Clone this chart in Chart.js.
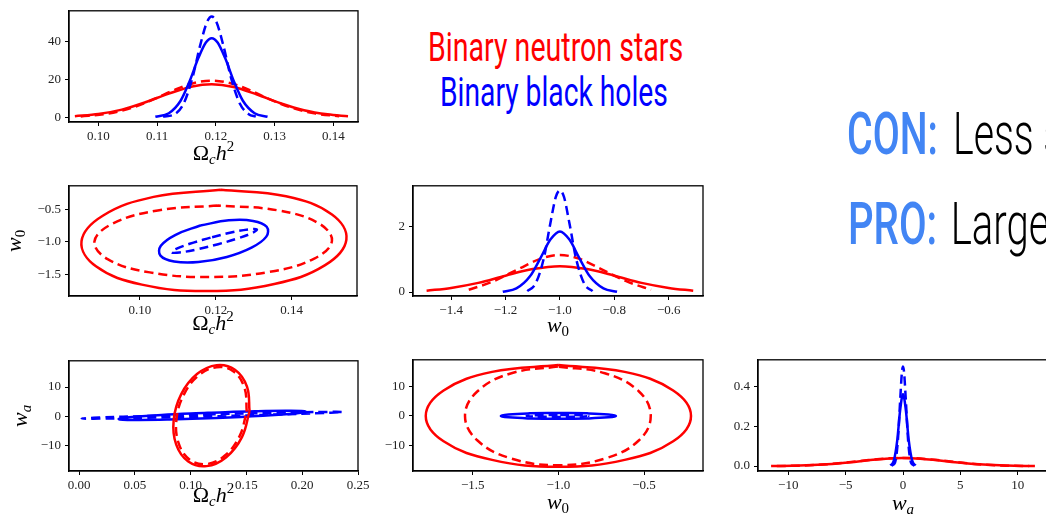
<!DOCTYPE html>
<html>
<head>
<meta charset="utf-8">
<script src="https://cdn.jsdelivr.net/npm/chart.js@4.4.1/dist/chart.umd.min.js"></script>
<style>
html, body { margin: 0; padding: 0; background: #fff; }
body { width: 1046px; height: 514px; overflow: hidden; position: relative; font-family: Roboto, sans-serif; }
canvas { position: absolute; }
.txt { position: absolute; white-space: nowrap; line-height: 1; transform-origin: 0 0; }
.big { font-size: 40px; font-weight: 400; }
.slide { font-size: 60px; }
.key { color: #4285f4; font-weight: 500; }
.rest { color: #000; font-weight: 300; display: inline-block; }
</style>
</head>
<body>
<div id="bns" class="txt big" style="color:#ff0000">Binary neutron stars</div>
<div id="bbh" class="txt big" style="color:#0000ff">Binary black holes</div>
<div id="con" class="txt slide"><span class="key">CON:</span><span class="rest">Less s</span></div>
<div id="pro" class="txt slide"><span class="key">PRO:</span><span class="rest">Large</span></div>

<canvas id="pOmega"></canvas>
<canvas id="pOmegaW0"></canvas>
<canvas id="pW0"></canvas>
<canvas id="pOmegaWa"></canvas>
<canvas id="pW0Wa"></canvas>
<canvas id="pWa"></canvas>

<script>
/**
 * Data: [x, y] points along each curve
 */

// Omega_c h^2 marginal
var omegaBnsSolid = [[0.096, 0.6], [0.100, 1.75], [0.104, 4.1], [0.108, 8.0], [0.112, 12.6], [0.116, 16.4], [0.1193, 17.5], [0.123, 16.1], [0.127, 12.1], [0.131, 7.5], [0.135, 3.8], [0.139, 1.6], [0.1425, 0.6]];
var omegaBnsDashed = [[0.097, 0.5], [0.101, 1.7], [0.105, 4.4], [0.109, 9.0], [0.113, 14.6], [0.116, 18.0], [0.1193, 19.5], [0.1225, 18.1], [0.1255, 14.8], [0.129, 9.8], [0.133, 5.0], [0.137, 2.0], [0.141, 0.6]];
var omegaBbhSolid = [[0.1097, 0.3], [0.112, 2.2], [0.114, 8.8], [0.1155, 18.9], [0.117, 31.3], [0.1183, 39.7], [0.1193, 42], [0.1203, 39.7], [0.1216, 31.3], [0.1231, 18.9], [0.1246, 8.8], [0.1266, 2.2], [0.1288, 0.3]];
var omegaBbhDashed = [[0.111, 0.4], [0.113, 1.7], [0.1145, 7.2], [0.116, 20.8], [0.1173, 37.8], [0.1185, 50.6], [0.1193, 53.5], [0.1201, 50.6], [0.1213, 37.8], [0.1226, 20.8], [0.1241, 7.2], [0.1256, 1.7], [0.1268, 0.4]];

// Omega_c h^2 vs w0 contours
var omegaW0BnsSolid = [[0.1213, -0.206], [0.1036, -0.314], [0.0902, -0.601], [0.0846, -0.988], [0.0884, -1.373], [0.1005, -1.652], [0.1177, -1.75], [0.1354, -1.642], [0.1488, -1.355], [0.1544, -0.968], [0.1506, -0.583], [0.1385, -0.304], [0.1213, -0.206]];
var omegaW0BnsDashed = [[0.1205, -0.445], [0.1047, -0.521], [0.0928, -0.722], [0.088, -0.995], [0.0916, -1.267], [0.1026, -1.465], [0.1181, -1.535], [0.1339, -1.46], [0.1458, -1.258], [0.1506, -0.985], [0.147, -0.713], [0.136, -0.516], [0.1205, -0.445]];
var omegaW0BbhSolid = [[0.1159, -0.75], [0.1094, -0.892], [0.1055, -1.06], [0.1054, -1.21], [0.109, -1.30], [0.1154, -1.308], [0.1229, -1.23], [0.1294, -1.088], [0.1333, -0.92], [0.1334, -0.77], [0.1298, -0.68], [0.1234, -0.672], [0.1159, -0.75]];
var omegaW0BbhDashed = [[0.1186, -0.935], [0.1131, -1.029], [0.1094, -1.112], [0.1084, -1.16], [0.1104, -1.162], [0.1149, -1.116], [0.1206, -1.035], [0.1261, -0.941], [0.1298, -0.858], [0.1308, -0.81], [0.1288, -0.808], [0.1243, -0.854], [0.1186, -0.935]];

// w0 marginal
var w0BnsSolid = [[-1.49, 0.04], [-1.4, 0.127], [-1.3, 0.28], [-1.2, 0.50], [-1.1, 0.70], [-1.0, 0.79], [-0.9, 0.70], [-0.8, 0.50], [-0.7, 0.28], [-0.6, 0.127], [-0.51, 0.04]];
var w0BnsDashed = [[-1.335, 0.07], [-1.25, 0.31], [-1.15, 0.71], [-1.07, 1.02], [-1.0, 1.13], [-0.93, 1.02], [-0.85, 0.71], [-0.75, 0.31], [-0.665, 0.07]];
var w0BbhSolid = [[-1.21, 0.01], [-1.16, 0.11], [-1.11, 0.48], [-1.07, 1.06], [-1.035, 1.6], [-1.0, 1.85], [-0.965, 1.6], [-0.93, 1.06], [-0.89, 0.48], [-0.84, 0.11], [-0.79, 0.01]];
var w0BbhDashed = [[-1.12, 0.03], [-1.09, 0.25], [-1.06, 1.0], [-1.035, 2.1], [-1.015, 2.9], [-1.0, 3.1], [-0.985, 2.9], [-0.965, 2.1], [-0.94, 1.0], [-0.91, 0.25], [-0.88, 0.03]];

// Omega_c h^2 vs wa contours
var omegaWaBnsSolid = [[0.1528, 1.7], [0.1505, 10.15], [0.1397, 15.93], [0.1233, 17.5], [0.1057, 14.43], [0.0916, 7.55], [0.0848, -1.3], [0.0871, -9.75], [0.0979, -15.53], [0.1143, -17.1], [0.1319, -14.03], [0.146, -7.15], [0.1528, 1.7]];
var omegaWaBnsDashed = [[0.1503, 1.6], [0.1483, 9.71], [0.1385, 15.28], [0.1233, 16.8], [0.107, 13.88], [0.0938, 7.29], [0.0873, -1.2], [0.0893, -9.31], [0.0992, -14.88], [0.1143, -16.4], [0.1307, -13.48], [0.1438, -6.89], [0.1503, 1.6]];
var omegaWaBbhSolid = [[0.1153, 1.18], [0.074, 0.424], [0.0448, -0.37], [0.0356, -0.99], [0.0488, -1.27], [0.0809, -1.134], [0.1233, -0.62], [0.1646, 0.136], [0.1938, 0.93], [0.203, 1.55], [0.1898, 1.83], [0.1577, 1.69], [0.1153, 1.18]];
var omegaWaBbhDashed = [[0.1192, 0.675], [0.0608, 0.066], [0.0181, -0.474], [0.0024, -0.8], [0.0181, -0.824], [0.0608, -0.54], [0.1192, -0.025], [0.1776, 0.5845], [0.2203, 1.124], [0.236, 1.45], [0.2203, 1.474], [0.1776, 1.19], [0.1192, 0.675]];

// w0 vs wa contours
var w0WaBnsSolid = [[-1.0, 17.2], [-1.387, 14.9], [-1.67, 8.6], [-1.774, 0], [-1.67, -8.6], [-1.387, -14.9], [-1.0, -17.2], [-0.613, -14.9], [-0.33, -8.6], [-0.226, 0], [-0.33, 8.6], [-0.613, 14.9], [-1.0, 17.2]];
var w0WaBnsDashed = [[-1.003, 16.7], [-1.274, 14.46], [-1.472, 8.35], [-1.545, 0], [-1.472, -8.35], [-1.274, -14.46], [-1.003, -16.7], [-0.729, -14.46], [-0.531, -8.35], [-0.461, 0], [-0.531, 8.35], [-0.729, 14.46], [-1.003, 16.7]];
var w0WaBbhSolid = [[-1.0, 1.0], [-1.168, 0.866], [-1.291, 0.5], [-1.336, 0], [-1.291, -0.5], [-1.168, -0.866], [-1.0, -1.0], [-0.832, -0.866], [-0.709, -0.5], [-0.664, 0], [-0.709, 0.5], [-0.832, 0.866], [-1.0, 1.0]];
var w0WaBbhDashed = [[-1.005, 0.35], [-1.095, 0.3], [-1.161, 0.175], [-1.185, 0], [-1.161, -0.175], [-1.095, -0.3], [-1.005, -0.35], [-0.915, -0.3], [-0.844, -0.175], [-0.825, 0], [-0.844, 0.175], [-0.915, 0.3], [-1.005, 0.35]];

// wa marginal
var waBnsSolid = [[-11.5, 0.0004], [-9, 0.0024], [-7, 0.0073], [-5, 0.017], [-3, 0.029], [-1.5, 0.037], [0, 0.04], [1.5, 0.037], [3, 0.029], [5, 0.017], [7, 0.0073], [9, 0.0024], [11.5, 0.0004]];
var waBnsDashed = [[-11, 0.0005], [-9, 0.0022], [-7, 0.0075], [-5, 0.018], [-3, 0.03], [-1.5, 0.038], [0, 0.041], [1.5, 0.038], [3, 0.03], [5, 0.018], [7, 0.0075], [9, 0.0022], [11, 0.0005]];
var waBbhSolid = [[-1.1, 0.003], [-0.8, 0.027], [-0.5, 0.13], [-0.25, 0.28], [0, 0.36], [0.25, 0.28], [0.5, 0.13], [0.8, 0.027], [1.1, 0.003]];
var waBbhDashed = [[-1.0, 0.002], [-0.7, 0.017], [-0.45, 0.125], [-0.25, 0.326], [-0.1, 0.467], [0, 0.5], [0.1, 0.467], [0.25, 0.326], [0.45, 0.125], [0.7, 0.017], [1.0, 0.002]];

// tick values
var omegaTicksFine = [0.10, 0.11, 0.12, 0.13, 0.14];
var omegaTicksMid = [0.10, 0.12, 0.14];
var omegaTicksWide = [0.00, 0.05, 0.10, 0.15, 0.20, 0.25];
var w0TicksFine = [-1.4, -1.2, -1.0, -0.8, -0.6];
var w0Ticks = [-1.5, -1.0, -0.5];
var waTicks = [-10, 0, 10];
var waTicksWide = [-10, -5, 0, 5, 10];
var omegaPdfTicks = [0, 20, 40];
var w0PdfTicks = [0, 2];
var waPdfTicks = [0.0, 0.2, 0.4];

/**
 * Styling helpers
 */

var RED = '#ff0000';
var BLUE = '#0000ff';
var AXIS_W = 69, PAD_TOP = 10, PAD_RIGHT = 24, AXIS_H = 45;
var TICK_FONT = { family: '"Liberation Serif", serif', size: 13 };

var OMEGA = [{ t: '\u03A9' }, { t: 'c', it: true, sub: true }, { t: 'h', it: true }, { t: '2', sup: true }];
var W0 = [{ t: 'w', it: true }, { t: '0', sub: true }];
var WA = [{ t: 'w', it: true }, { t: 'a', it: true, sub: true }];

function fmt(v, dec) {
    return v.toFixed(dec).replace('-', '\u2212');
}

function curve(points, color, dashed, loop) {
    return {
        data: points.map(function (p) { return { x: p[0], y: p[1] }; }),
        showLine: true,
        borderColor: color,
        borderWidth: 2.5,
        borderDash: dashed ? [9, 5] : [],
        pointRadius: 0,
        tension: loop ? 0.4 : 0,
        cubicInterpolationMode: loop ? 'default' : 'monotone',
        fill: false
    };
}

function drawMath(ctx, parts, x, y, size, angle) {
    ctx.save();
    ctx.translate(x, y);
    ctx.rotate(angle || 0);
    ctx.fillStyle = '#000';
    ctx.textBaseline = 'alphabetic';
    var items = parts.map(function (p) {
        var s = (p.sub || p.sup) ? size * 0.68 : size;
        var font = (p.it ? 'italic ' : '') + s + 'px "Liberation Serif", serif';
        ctx.font = font;
        return { t: p.t, font: font, w: ctx.measureText(p.t).width, dy: p.sub ? size * 0.2 : (p.sup ? -size * 0.4 : 0) };
    });
    var total = items.reduce(function (a, b) { return a + b.w; }, 0);
    var cx = -total / 2;
    items.forEach(function (it) {
        ctx.font = it.font;
        ctx.fillText(it.t, cx, it.dy);
        cx += it.w;
    });
    ctx.restore();
}

var framePlugin = {
    id: 'frame',
    afterDatasetsDraw: function (chart) {
        var a = chart.chartArea, ctx = chart.ctx;
        ctx.save();
        ctx.lineWidth = 1.3;
        ctx.strokeStyle = '#000';
        ctx.strokeRect(a.left, a.top, a.right - a.left, a.bottom - a.top);
        ctx.restore();
    },
    afterDraw: function (chart, args, opts) {
        var a = chart.chartArea, ctx = chart.ctx;
        if (opts.xTitle) drawMath(ctx, opts.xTitle, (a.left + a.right) / 2, a.bottom + opts.xBase, 22);
        if (opts.yTitle) drawMath(ctx, opts.yTitle, opts.yBase, (a.top + a.bottom) / 2, 22, -Math.PI / 2);
    }
};

function axis(range, ticks, dec, isX) {
    return {
        type: 'linear',
        min: range[0],
        max: range[1],
        afterFit: function (s) { if (isX) s.height = AXIS_H; else s.width = AXIS_W; },
        afterBuildTicks: function (s) { s.ticks = ticks.map(function (v) { return { value: v }; }); },
        ticks: {
            callback: function (v) { return fmt(v, dec); },
            font: TICK_FONT,
            color: '#222',
            padding: isX ? 3 : 4,
            maxRotation: 0,
            autoSkip: false
        },
        grid: { drawOnChartArea: false, drawTicks: true, tickLength: 4, color: '#000' },
        border: { display: true, color: '#000', width: 1.3 }
    };
}

function makePanel(id, frame, xRange, yRange, xTicks, xDec, yTicks, yDec, datasets, titles) {
    var canvas = document.getElementById(id);
    canvas.width = frame.r - frame.l + AXIS_W + PAD_RIGHT;
    canvas.height = frame.b - frame.t + PAD_TOP + AXIS_H;
    canvas.style.left = (frame.l - AXIS_W) + 'px';
    canvas.style.top = (frame.t - PAD_TOP) + 'px';
    return new Chart(canvas, {
        type: 'scatter',
        data: { datasets: datasets },
        options: {
            responsive: false,
            animation: false,
            layout: { padding: { top: PAD_TOP, right: PAD_RIGHT, left: 0, bottom: 0 } },
            plugins: { legend: { display: false }, tooltip: { enabled: false }, frame: titles },
            scales: {
                x: axis(xRange, xTicks, xDec, true),
                y: axis(yRange, yTicks, yDec, false)
            }
        },
        plugins: [framePlugin]
    });
}

/**
 * Panels
 */

makePanel('pOmega', { l: 69, t: 9, r: 358, b: 122 }, [0.0950, 0.1442], [-2.45, 56.5],
    omegaTicksFine, 2, omegaPdfTicks, 0,
    [curve(omegaBbhDashed, BLUE, true), curve(omegaBbhSolid, BLUE, false),
     curve(omegaBnsDashed, RED, true), curve(omegaBnsSolid, RED, false)],
    { xTitle: OMEGA, xBase: 38 });

makePanel('pOmegaW0', { l: 69, t: 184, r: 357, b: 296 }, [0.0813, 0.1572], [-1.825, -0.145],
    omegaTicksMid, 2, w0Ticks, 1,
    [curve(omegaW0BnsSolid, RED, false, true), curve(omegaW0BnsDashed, RED, true, true),
     curve(omegaW0BbhSolid, BLUE, false, true), curve(omegaW0BbhDashed, BLUE, true, true)],
    { xTitle: OMEGA, xBase: 34, yTitle: W0, yBase: 21 });

makePanel('pW0', { l: 413, t: 184, r: 703, b: 296 }, [-1.540, -0.474], [-0.12, 3.24],
    w0TicksFine, 1, w0PdfTicks, 0,
    [curve(w0BbhDashed, BLUE, true), curve(w0BbhSolid, BLUE, false),
     curve(w0BnsDashed, RED, true), curve(w0BnsSolid, RED, false)],
    { xTitle: W0, xBase: 36 });

makePanel('pOmegaWa', { l: 69, t: 359, r: 358, b: 471 }, [-0.009, 0.25], [-18.77, 18.98],
    omegaTicksWide, 2, waTicks, 0,
    [curve(omegaWaBnsSolid, RED, false, true), curve(omegaWaBnsDashed, RED, true, true),
     curve(omegaWaBbhSolid, BLUE, false, true), curve(omegaWaBbhDashed, BLUE, true, true)],
    { xTitle: OMEGA, xBase: 31, yTitle: WA, yBase: 27 });

makePanel('pW0Wa', { l: 413, t: 358, r: 703, b: 471 }, [-1.8485, -0.156], [-18.67, 19],
    w0Ticks, 1, waTicks, 0,
    [curve(w0WaBnsSolid, RED, false, true), curve(w0WaBnsDashed, RED, true, true),
     curve(w0WaBbhSolid, BLUE, false, true), curve(w0WaBbhDashed, BLUE, true, true)],
    { xTitle: W0, xBase: 38 });

makePanel('pWa', { l: 758, t: 358, r: 1048, b: 471 }, [-12.64, 12.64], [-0.0247, 0.533],
    waTicksWide, 0, waPdfTicks, 1,
    [curve(waBbhDashed, BLUE, true), curve(waBbhSolid, BLUE, false),
     curve(waBnsDashed, RED, true), curve(waBnsSolid, RED, false)],
    { xTitle: WA, xBase: 39 });

/**
 * Slide text, squeezed to the condensed width of the original
 */

function placeCentered(id, cx, baseline, width) {
    var el = document.getElementById(id);
    var size = parseFloat(getComputedStyle(el).fontSize);
    el.style.transform = 'scaleX(' + (width / el.offsetWidth) + ')';
    el.style.left = (cx - width / 2) + 'px';
    el.style.top = (baseline - 0.8418 * size) + 'px';
}

function placeLine(id, left, baseline, keyWidth, gap) {
    var el = document.getElementById(id);
    var size = parseFloat(getComputedStyle(el).fontSize);
    var s = keyWidth / el.querySelector('.key').offsetWidth;
    el.querySelector('.rest').style.marginLeft = (gap / s) + 'px';
    el.style.transform = 'scaleX(' + s + ')';
    el.style.left = left + 'px';
    el.style.top = (baseline - 0.8418 * size) + 'px';
}

placeCentered('bns', 555.5, 61.7, 255);
placeCentered('bbh', 554, 106.7, 228);
placeLine('con', 847, 155, 91, 15);
placeLine('pro', 848, 245, 89, 13.5);
</script>
</body>
</html>
